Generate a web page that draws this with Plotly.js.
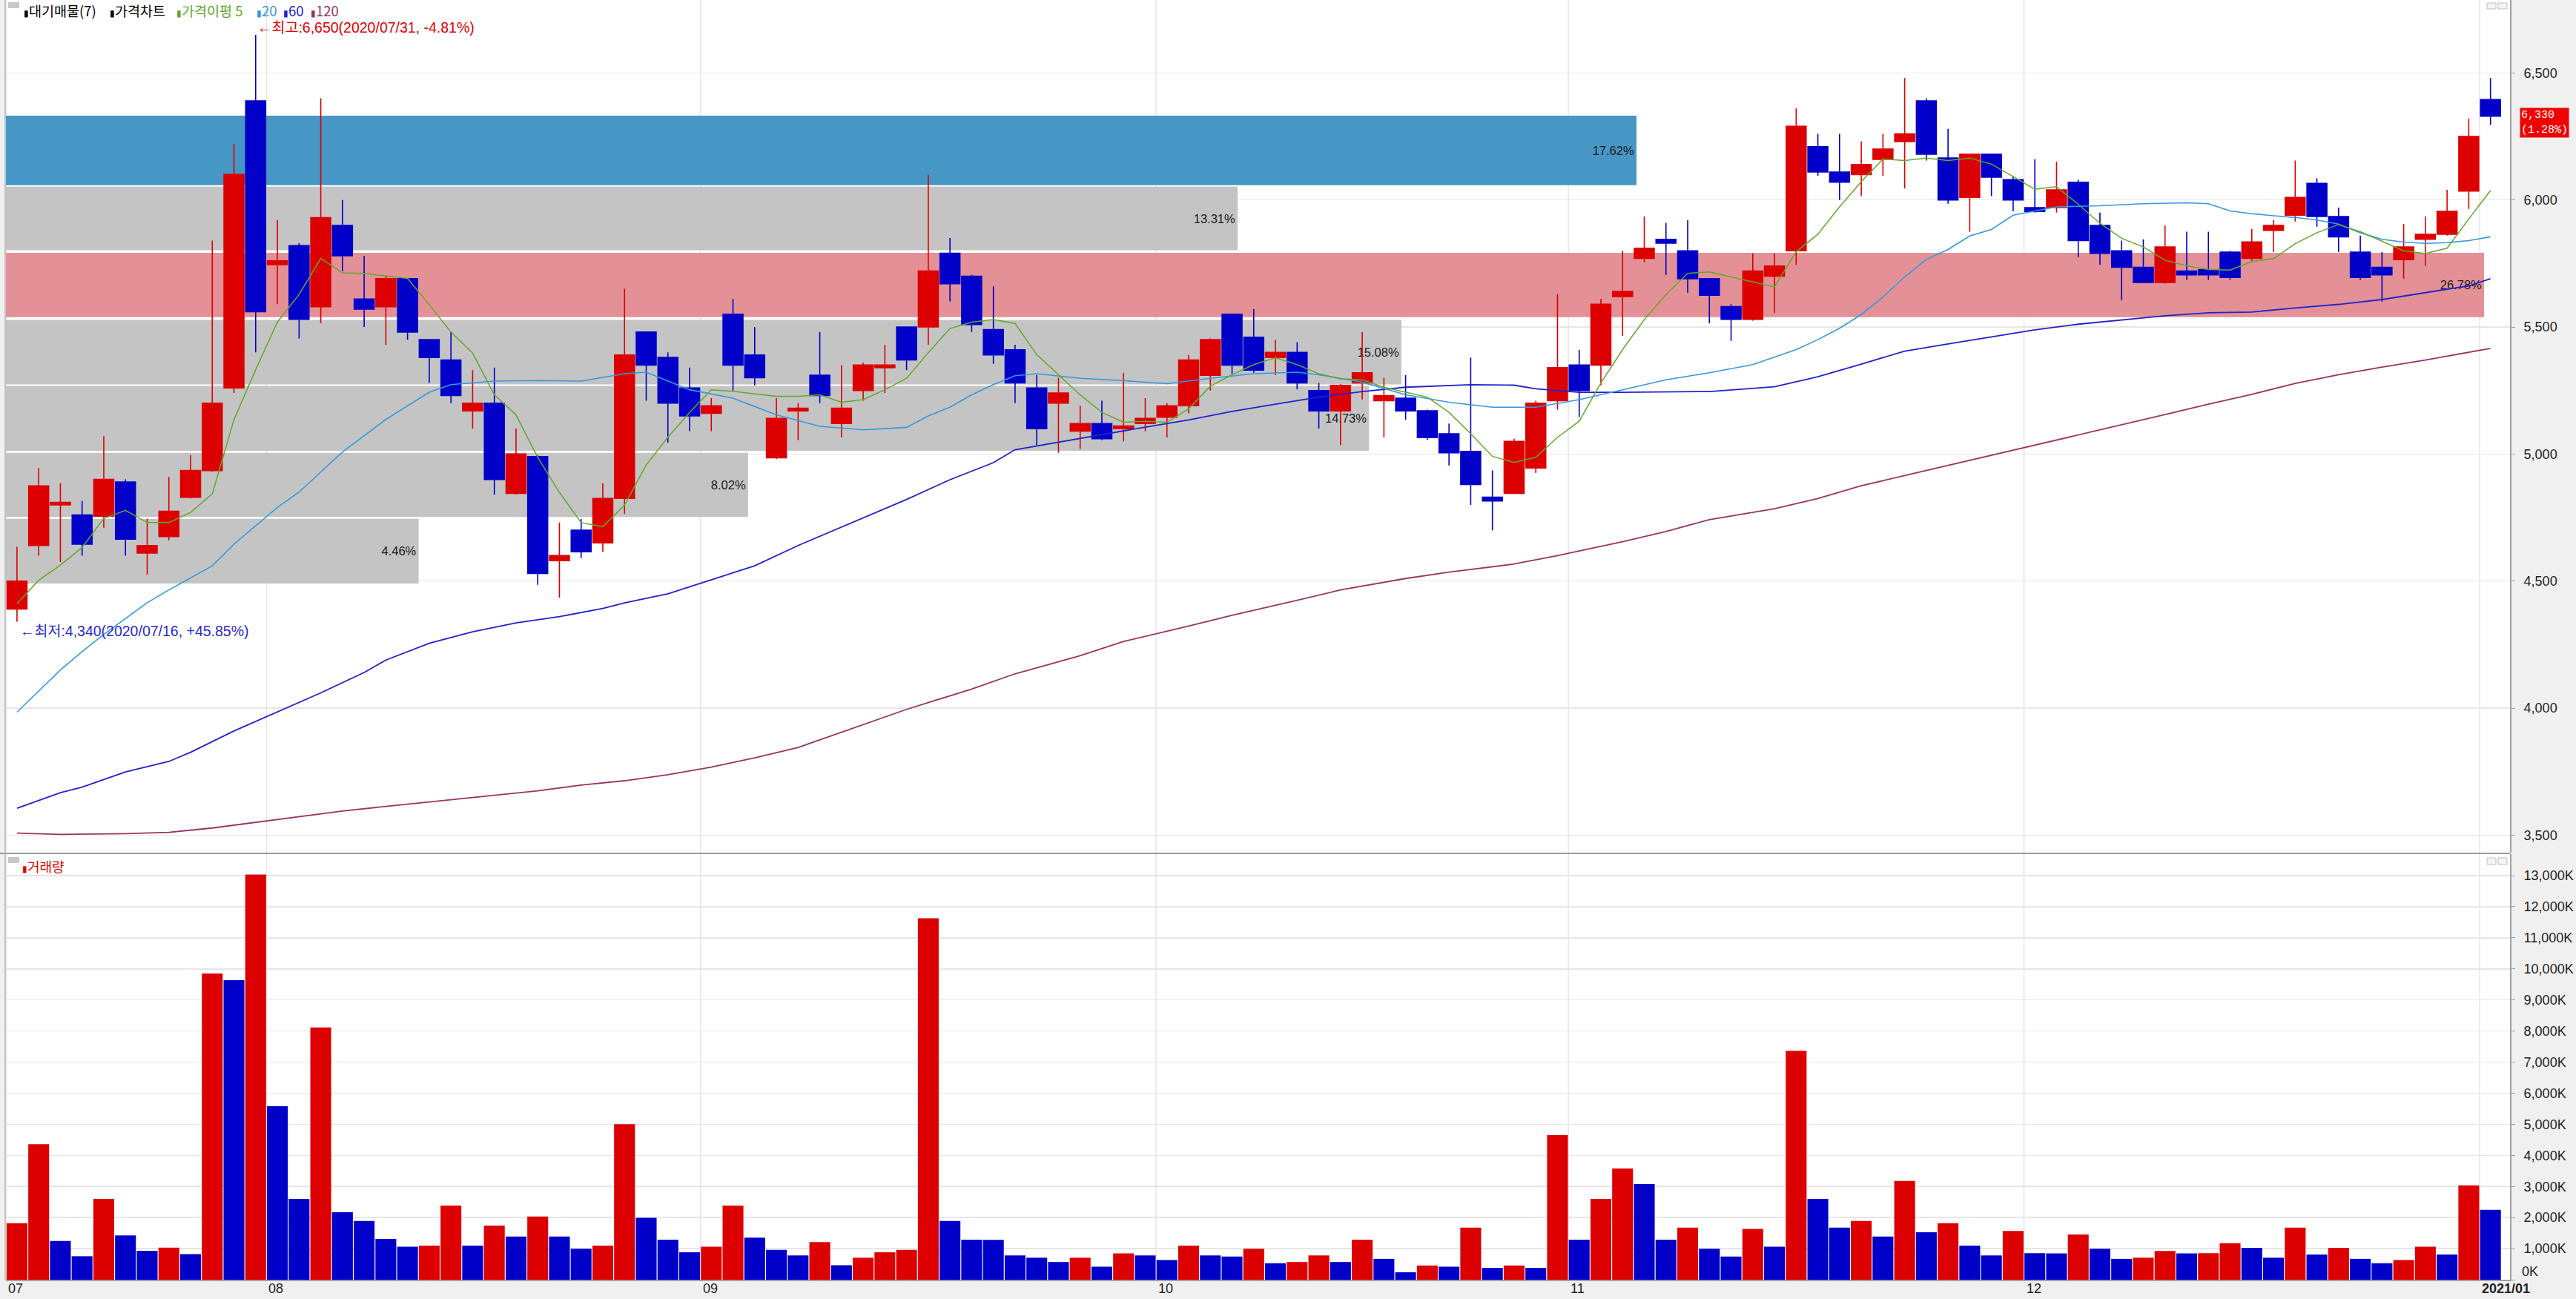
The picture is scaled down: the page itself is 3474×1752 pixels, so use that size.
<!DOCTYPE html>
<html><head><meta charset="utf-8">
<script src="https://cdn.plot.ly/plotly-3.0.1.min.js"></script>
<style>html,body{margin:0;padding:0;background:#F0F0F0;overflow:hidden}#chart{width:3474px;height:1752px}</style>
</head><body><div id="chart"></div>
<script>
// ---------------- DATA ----------------
const dates = [
"2020-07-16","2020-07-17","2020-07-20","2020-07-21","2020-07-22","2020-07-23","2020-07-24","2020-07-27","2020-07-28","2020-07-29","2020-07-30","2020-07-31",
"2020-08-03","2020-08-04","2020-08-05","2020-08-06","2020-08-07","2020-08-10","2020-08-11","2020-08-12","2020-08-13","2020-08-14","2020-08-18","2020-08-19","2020-08-20","2020-08-21","2020-08-24","2020-08-25","2020-08-26","2020-08-27","2020-08-28","2020-08-31",
"2020-09-01","2020-09-02","2020-09-03","2020-09-04","2020-09-07","2020-09-08","2020-09-09","2020-09-10","2020-09-11","2020-09-14","2020-09-15","2020-09-16","2020-09-17","2020-09-18","2020-09-21","2020-09-22","2020-09-23","2020-09-24","2020-09-25","2020-09-28","2020-09-29",
"2020-10-05","2020-10-06","2020-10-07","2020-10-08","2020-10-12","2020-10-13","2020-10-14","2020-10-15","2020-10-16","2020-10-19","2020-10-20","2020-10-21","2020-10-22","2020-10-23","2020-10-26","2020-10-27","2020-10-28","2020-10-29","2020-10-30",
"2020-11-02","2020-11-03","2020-11-04","2020-11-05","2020-11-06","2020-11-09","2020-11-10","2020-11-11","2020-11-12","2020-11-13","2020-11-16","2020-11-17","2020-11-18","2020-11-19","2020-11-20","2020-11-23","2020-11-24","2020-11-25","2020-11-26","2020-11-27","2020-11-30",
"2020-12-01","2020-12-02","2020-12-03","2020-12-04","2020-12-07","2020-12-08","2020-12-09","2020-12-10","2020-12-11","2020-12-14","2020-12-15","2020-12-16","2020-12-17","2020-12-18","2020-12-21","2020-12-22","2020-12-23","2020-12-24","2020-12-28","2020-12-29","2020-12-30",
"2021-01-04"];

const opens = [
4390,4640,4800,4760,4755,4890,4610,4675,4830,4935,
5260,6390,5745,5820,5580,5900,5610,5580,5690,5450,
5370,5170,5200,4845,4990,4580,4700,4650,4825,5480,
5380,5260,5160,5550,5390,4985,5170,5310,5120,5250,
5340,5500,5500,5790,5700,5490,5410,5260,5200,5090,
5120,5100,5120,5145,5190,5310,5550,5460,5380,5400,
5250,5170,5280,5210,5220,5170,5080,5010,4830,4845,
4945,5210,5350,5350,5620,5770,5845,5800,5690,5580,
5530,5700,5800,6210,6110,6100,6160,6230,6390,6165,
6010,6180,6080,5970,5970,6070,5900,5800,5735,5675,
5720,5725,5795,5770,5880,5940,6065,5935,5795,5735,
5765,5845,5865,6035,6395];

const highs = [
4635,4945,4885,4815,5070,4900,4745,4910,4995,5840,
6220,6650,5920,5830,6400,6000,5780,5700,5690,5450,
5480,5330,5340,5100,4995,4730,4745,4885,5650,5480,
5400,5340,5220,5610,5500,5220,5200,5480,5350,5360,
5430,5500,6100,5850,5705,5660,5430,5310,5300,5190,
5210,5320,5220,5200,5390,5455,5550,5570,5450,5440,
5280,5275,5480,5300,5310,5175,5120,5380,4935,5060,
5210,5630,5410,5610,5800,5935,5910,5920,5690,5590,
5790,5790,6360,6260,6260,6230,6260,6480,6400,6280,
6180,6180,6095,6160,6150,6080,5950,5840,5845,5900,
5875,5875,5800,5885,5920,6155,6085,5970,5860,5795,
5905,5935,6040,6320,6480];

const lows = [
4340,4600,4575,4600,4710,4600,4525,4660,4825,4930,
5240,5400,5590,5455,5515,5720,5500,5430,5450,5280,
5200,5100,4840,4840,4485,4435,4590,4615,4765,5210,
5045,5090,5090,5250,5270,4980,5055,5200,5065,5210,
5240,5330,5430,5600,5480,5355,5200,5035,5005,5020,
5055,5050,5090,5065,5160,5250,5315,5320,5310,5255,
5100,5035,5215,5065,5135,5055,4955,4800,4700,4845,
4925,5175,5145,5270,5465,5755,5705,5635,5515,5445,
5525,5555,5745,6095,6000,6015,6095,6045,6155,5985,
5875,6015,5955,5950,5950,5775,5745,5605,5675,5670,
5685,5685,5685,5760,5795,5915,5895,5795,5685,5600,
5690,5740,5860,5965,6295];

const closes = [
4500,4875,4810,4645,4900,4665,4640,4775,4935,5200,
6100,5560,5760,5530,5930,5780,5570,5690,5480,5380,
5230,5200,4900,5000,4530,4600,4615,4825,5390,5350,
5200,5150,5190,5350,5300,5140,5180,5230,5180,5350,
5350,5370,5720,5670,5510,5390,5280,5100,5240,5120,
5060,5110,5140,5190,5370,5450,5350,5330,5400,5280,
5170,5270,5320,5230,5170,5065,5005,4880,4815,5050,
5200,5340,5250,5590,5640,5810,5830,5690,5625,5530,
5720,5740,6290,6110,6070,6140,6200,6260,6180,6000,
6180,6090,6000,5955,6040,5840,5790,5735,5675,5815,
5705,5705,5695,5835,5900,6010,5935,5855,5695,5705,
5815,5865,5955,6250,6330];

// volume in thousands of shares (K)
const volumes = [
1817,4362,1249,755,2600,1426,932,1034,820,9851,
9636,13038,5582,2600,8117,2171,1892,1314,1062,1100,
2386,1100,1743,1389,2032,1389,997,1100,5005,1994,
1286,885,1062,2386,1351,960,783,1212,466,708,
885,960,11631,1892,1286,1280,783,708,569,708,
419,848,783,634,1100,783,746,997,531,569,
783,569,1286,671,242,457,419,1678,382,457,
382,4651,1286,2600,3579,3075,1286,1678,997,746,
1631,1062,7363,2600,1678,1892,1389,3178,1528,1817,
1100,783,1566,850,845,1454,997,671,708,923,
848,852,1174,1025,708,1678,811,1025,671,531,
634,1062,811,3038,2246];

// moving averages
const ma5 = [
4411,4503,4563,4632,4746,4778,4730,4730,4770,4843,
5135,5332,5519,5628,5770,5713,5711,5701,5691,5588,
5480,5397,5233,5154,4987,4849,4730,4714,4799,4957,
5066,5164,5253,5247,5237,5227,5227,5233,5204,5214,
5253,5298,5399,5494,5519,5529,5514,5391,5312,5233,
5164,5125,5129,5125,5178,5267,5312,5352,5379,5352,
5316,5296,5292,5263,5243,5224,5164,5080,4991,4967,
4987,5066,5129,5280,5411,5529,5628,5711,5717,5697,
5677,5658,5796,5865,5973,6072,6161,6155,6165,6155,
6165,6141,6092,6042,6052,5983,5908,5849,5815,5763,
5741,5726,5724,5757,5769,5828,5871,5903,5875,5838,
5800,5789,5810,5925,6037];

const ma20Idx = [0,2,3,4,6,7,9,10,12,13,15,17,19,20,22,24,26,28,29,31,33,35,37,39,41,42,43,44,45,46,47,49,51,53,55,57,59,60,62,64,66,68,70,72,74,76,78,80,82,83,84,85,86,87,88,89,90,91,92,93,94,96,98,100,101,102,103,104,105,106,107,108,109,110,111,112,113,114];
const ma20Val = [3984,4150,4222,4290,4415,4465,4560,4645,4790,4850,5008,5136,5243,5273,5287,5289,5287,5316,5322,5253,5220,5154,5109,5095,5105,5150,5184,5233,5273,5308,5316,5298,5289,5277,5298,5316,5322,5312,5283,5233,5204,5184,5184,5214,5253,5292,5320,5352,5411,5450,5495,5549,5618,5697,5766,5805,5858,5884,5940,5957,5973,5977,5985,5989,5985,5957,5946,5938,5931,5921,5905,5871,5845,5834,5829,5832,5840,5855];

const ma60Idx = [0,2,3,5,7,8,10,12,14,16,17,19,21,23,25,27,28,30,32,34,36,39,41,43,45,46,48,50,52,54,56,58,60,62,64,67,69,70,72,74,78,81,83,85,87,89,91,93,95,97,99,101,103,105,107,109,111,113,114];
const ma60Val = [3606,3667,3689,3749,3790,3826,3910,3985,4060,4140,4189,4255,4300,4335,4360,4392,4414,4450,4505,4560,4640,4749,4821,4899,4966,5017,5047,5078,5106,5134,5168,5196,5224,5246,5263,5273,5271,5257,5243,5243,5246,5265,5304,5354,5405,5433,5461,5489,5511,5528,5544,5556,5559,5575,5589,5608,5634,5662,5690];

const ma120Idx = [0,2,5,7,9,11,13,15,18,20,22,24,26,28,30,32,34,36,37,39,41,44,46,49,51,54,56,59,61,64,66,69,71,74,76,78,81,83,85,87,89,91,93,95,97,99,101,103,105,107,109,111,114];
const ma120Val = [3508,3503,3506,3511,3528,3550,3572,3595,3622,3640,3656,3674,3697,3714,3738,3768,3804,3845,3875,3936,3995,4075,4135,4206,4262,4323,4365,4424,4465,4510,4535,4567,4600,4655,4695,4742,4785,4825,4875,4915,4955,4993,5033,5073,5115,5155,5196,5235,5278,5312,5342,5370,5416];

// volume-at-price bands (대기매물)
const bandLow  = [4490, 4752, 5013, 5274, 5539, 5802, 6058];
const bandHigh = [4745, 5005, 5268, 5528, 5792, 6052, 6332];
const bandPct  = [4.46, 8.02, 14.73, 15.08, 26.78, 13.31, 17.62];

const monthLabels = ["07","08","09","10","11","12","2021/01"];
const legendNames = ["대기매물(7)","가격차트","가격이평 5","20","60","120"];
const priceTicks = [3500, 4000, 4500, 5000, 5500, 6000, 6500];
const volTicks = [0,1000,2000,3000,4000,5000,6000,7000,8000,9000,10000,11000,12000,13000];

// ---------------- STYLE / GEOMETRY ----------------
const W = 3474, H = 1752, ML = 8, MR = 89, MT = 0, MB = 26;
const PW = W - ML - MR, PH = H - MT - MB;
const fx = px => (px - ML) / PW;
const fy = py => (PH - (py - MT)) / PH;

const RED = '#DC0000', BLUE = '#0000C8';
const C_MA5 = '#62A82A', C_MA20 = '#3399DD', C_MA60 = '#2222CC', C_MA120 = '#993366';
const GRID = '#E6E6E6';
const SANS = 'Liberation Sans, Arial, sans-serif';

const N = dates.length;
const fmt = n => String(n).replace(/\B(?=(\d{3})+(?!\d))/g, ',');
const signed = p => (p >= 0 ? '+' : '') + p.toFixed(2);

const volColors = volumes.map((v, i) => (i === 0 || v >= volumes[i - 1]) ? RED : BLUE);
const monthStartIdx = dates.map((d, i) => (i === 0 || d.slice(0, 7) !== dates[i - 1].slice(0, 7)) ? i : -1).filter(i => i >= 0);

const lastClose = closes[N - 1], prevClose = closes[N - 2];
const maxH = Math.max(...highs), iMax = highs.indexOf(maxH);
const minL = Math.min(...lows), iMin = lows.indexOf(minL);

const maxPct = Math.max(...bandPct);
const bandColors = bandPct.map((p, i) => p === maxPct ? '#E39196'
  : (lastClose >= bandLow[i] && lastClose <= bandHigh[i] + 5) ? '#4697C5' : '#C4C4C4');

// ---------------- TRACES ----------------
const traces = [
  {
    type: 'bar', orientation: 'h', xaxis: 'x', yaxis: 'y',
    x: bandPct,
    y: bandLow.map((l, i) => (l + bandHigh[i]) / 2),
    width: bandLow.map((l, i) => bandHigh[i] - l),
    marker: {color: bandColors, line: {width: 0}},
    texttemplate: '%{x:.2f}%', textposition: 'inside', insidetextanchor: 'end',
    textangle: 0, constraintext: 'none',
    insidetextfont: {family: SANS, size: 16.5, color: '#1A1A1A'},
    hoverinfo: 'skip', cliponaxis: false
  },
  {
    type: 'candlestick', xaxis: 'x2', yaxis: 'y',
    x: dates, open: opens, high: highs, low: lows, close: closes,
    increasing: {line: {color: RED, width: 1.6}, fillcolor: RED},
    decreasing: {line: {color: BLUE, width: 1.6}, fillcolor: BLUE},
    whiskerwidth: 0, hoverinfo: 'skip'
  },
  {type: 'scatter', mode: 'lines', xaxis: 'x2', yaxis: 'y', x: ma120Idx.map(i => dates[i]), y: ma120Val, line: {color: C_MA120, width: 1.8}, hoverinfo: 'skip'},
  {type: 'scatter', mode: 'lines', xaxis: 'x2', yaxis: 'y', x: ma60Idx.map(i => dates[i]), y: ma60Val, line: {color: C_MA60, width: 1.8}, hoverinfo: 'skip'},
  {type: 'scatter', mode: 'lines', xaxis: 'x2', yaxis: 'y', x: ma20Idx.map(i => dates[i]), y: ma20Val, line: {color: C_MA20, width: 1.6}, hoverinfo: 'skip'},
  {type: 'scatter', mode: 'lines', xaxis: 'x2', yaxis: 'y', x: dates, y: ma5, line: {color: C_MA5, width: 1.5}, hoverinfo: 'skip'},
  {
    type: 'bar', xaxis: 'x2', yaxis: 'y2', x: dates, y: volumes,
    marker: {color: volColors, line: {width: 0}}, hoverinfo: 'skip'
  }
];

// ---------------- SHAPES ----------------
const shapes = [];
monthStartIdx.forEach(i => {
  shapes.push({type: 'line', xref: 'x2', yref: 'y domain', x0: i - 0.5, x1: i - 0.5, y0: 0, y1: 1, line: {color: GRID, width: 1.5}, layer: 'below'});
  shapes.push({type: 'line', xref: 'x2', yref: 'y2 domain', x0: i - 0.5, x1: i - 0.5, y0: 0, y1: 1, line: {color: GRID, width: 1.5}, layer: 'below'});
});
shapes.push({type: 'line', xref: 'paper', yref: 'paper', x0: fx(0), x1: 1, y0: fy(1151), y1: fy(1151), line: {color: '#9A9A9A', width: 2}});
shapes.push({type: 'line', xref: 'paper', yref: 'paper', x0: fx(7), x1: fx(7), y0: 0, y1: 1, line: {color: '#B4B4B4', width: 1.5}});
[[11, 3, 26, 11], [11, 1156, 26, 1164]].forEach(r => shapes.push({type: 'rect', xref: 'paper', yref: 'paper', x0: fx(r[0]), x1: fx(r[2]), y0: fy(r[3]), y1: fy(r[1]), fillcolor: '#C8C8C8', line: {width: 0}}));
[[3354, 4, 3366, 12], [3369, 4, 3381, 12], [3354, 1157, 3366, 1166], [3369, 1157, 3381, 1166]].forEach(r => shapes.push({type: 'rect', xref: 'paper', yref: 'paper', x0: fx(r[0]), x1: fx(r[2]), y0: fy(r[3]), y1: fy(r[1]), fillcolor: '#F4F4F4', line: {color: '#C0C0C0', width: 1}}));

// ---------------- ANNOTATIONS ----------------
const mk = (c) => `<span style="color:${c};font-size:12px">▮</span>`;
const legendColors = ['#000000', '#000000', C_MA5, C_MA20, C_MA60, C_MA120];
const legendX = [31, 147, 237, 345, 381, 418];
const annotations = [];
legendNames.forEach((name, i) => annotations.push({
  xref: 'paper', yref: 'paper', x: fx(legendX[i]), y: 1, xanchor: 'left', yanchor: 'top', showarrow: false,
  borderpad: 0, text: `${mk(legendColors[i])}<span style="color:${legendColors[i]}">${name}</span>`,
  font: {family: 'Noto Sans CJK KR', size: 18.5, color: legendColors[i]}
}));

const dstr = d => d.replace(/-/g, '/');
const annFont = 'Liberation Sans, Noto Sans CJK KR';
annotations.push(
  {xref: 'x2', yref: 'y', x: iMax, y: maxH, xanchor: 'left', yanchor: 'middle', showarrow: false, xshift: 1, yshift: 10, borderpad: 0,
   text: `←최고:${fmt(maxH)}(${dstr(dates[iMax])}, ${signed((lastClose / maxH - 1) * 100)}%)`,
   font: {family: annFont, size: 19.5, color: '#E00000'}},
  {xref: 'x2', yref: 'y', x: iMin, y: minL, xanchor: 'left', yanchor: 'top', showarrow: false, xshift: 3, yshift: 0, borderpad: 0,
   text: `←최저:${fmt(minL)}(${dstr(dates[iMin])}, ${signed((lastClose / minL - 1) * 100)}%)`,
   font: {family: annFont, size: 19.5, color: '#2A2AD0'}},
  {xref: 'paper', yref: 'y', x: 1, y: lastClose, xanchor: 'left', yanchor: 'middle', xshift: 13, yshift: -9, showarrow: false,
   text: `${fmt(lastClose)}<br>(${((lastClose / prevClose - 1) * 100).toFixed(2)}%)`, align: 'left',
   bgcolor: '#F00000', borderpad: 1, font: {family: 'Liberation Mono', size: 15, color: '#FFFFFF'}},
  {xref: 'paper', yref: 'paper', x: fx(29), y: fy(1154), xanchor: 'left', yanchor: 'top', showarrow: false, borderpad: 0,
   text: `${mk(RED)}거래량`, font: {family: 'Noto Sans CJK KR', size: 18, color: RED}},
  // zero volume label sits just above the baseline, as in the original
  {xref: 'paper', yref: 'y2', x: 1, y: volTicks[0], xanchor: 'left', yanchor: 'bottom', xshift: 15, yshift: 0, showarrow: false, borderpad: 0,
   text: fmt(volTicks[0]) + 'K', font: {family: SANS, size: 18, color: '#222'}}
);
// month labels under the volume panel
monthStartIdx.forEach((idx, m) => annotations.push({
  xref: 'x2', yref: 'paper', x: idx - 0.5, y: 0, xanchor: 'left', yanchor: 'top', xshift: 2, yshift: -1,
  showarrow: false, borderpad: 0,
  text: monthLabels[m].length > 2 ? `<b>${monthLabels[m]}</b>` : monthLabels[m],
  font: {family: SANS, size: 18, color: '#222'}
}));

// ---------------- LAYOUT ----------------
const axisFont = {family: SANS, size: 18, color: '#222'};
const layout = {
  width: W, height: H, margin: {l: ML, r: MR, t: MT, b: MB, pad: 0},
  paper_bgcolor: '#F0F0F0', plot_bgcolor: '#FFFFFF', showlegend: false,
  bargap: 0.04, boxgap: 0.08, boxgroupgap: 0,
  xaxis: {type: 'linear', range: [0, 27.06], domain: [0, 1], anchor: 'y', visible: false, fixedrange: true},
  xaxis2: {
    type: 'category', overlaying: 'x', anchor: 'y2', categoryorder: 'array', categoryarray: dates,
    range: [-0.51, 114.9], showticklabels: false,
    showgrid: false, zeroline: false, ticks: '',
    showline: true, linecolor: '#A0A0A0', linewidth: 1.5,
    rangeslider: {visible: false}, fixedrange: true
  },
  yaxis: {
    domain: [fy(1150), 1], anchor: 'x', side: 'right', range: [3431, 6787],
    tickmode: 'array', tickvals: priceTicks, ticktext: priceTicks.map(fmt),
    showgrid: true, gridcolor: GRID, gridwidth: 1.5, zeroline: false,
    ticks: 'outside', ticklen: 5, tickcolor: '#A0A0A0', ticklabelstandoff: 8,
    tickfont: axisFont, showline: true, linecolor: '#A0A0A0', linewidth: 2, fixedrange: true
  },
  yaxis2: {
    domain: [0, fy(1152)], anchor: 'x2', side: 'right', range: [0, 13692],
    tickmode: 'array', tickvals: volTicks, ticktext: volTicks.map(v => v === 0 ? '' : fmt(v) + 'K'),
    showgrid: true, gridcolor: GRID, gridwidth: 1.5, zeroline: false,
    ticks: 'outside', ticklen: 5, tickcolor: '#A0A0A0', ticklabelstandoff: 8,
    tickfont: axisFont, showline: true, linecolor: '#A0A0A0', linewidth: 2, fixedrange: true
  },
  shapes: shapes,
  annotations: annotations
};

Plotly.newPlot('chart', traces, layout, {staticPlot: true, displayModeBar: false});
</script>
</body></html>
